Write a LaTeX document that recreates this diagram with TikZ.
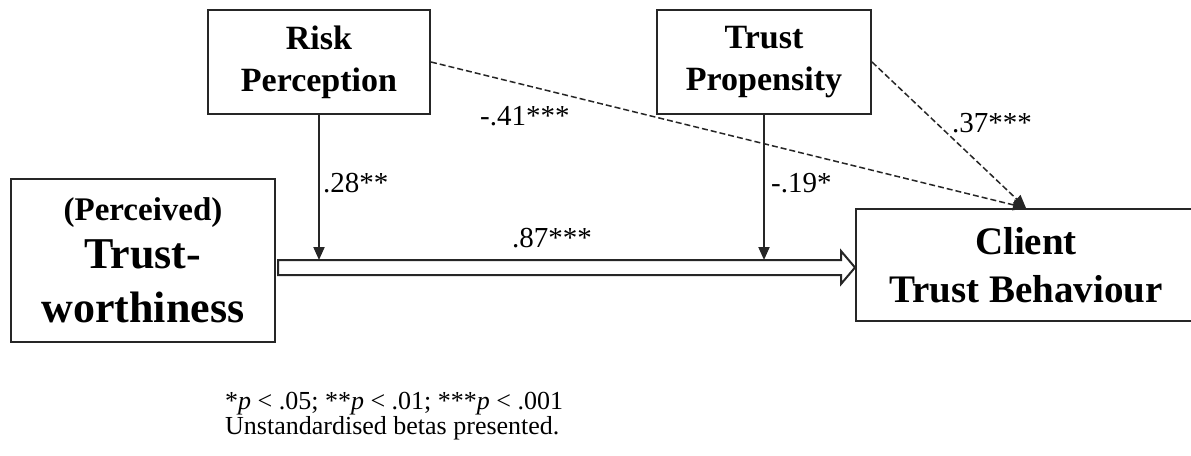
\documentclass[tikz,border=0pt]{standalone}
\usepackage{fontspec}
\setmainfont{Liberation Serif}
\usetikzlibrary{arrows.meta,calc}

\begin{document}
\begin{tikzpicture}[x=1pt,y=-1pt,box/.style={draw=black!85,line width=2pt,align=center,inner sep=0pt},
 coef/.style={anchor=west,inner sep=0pt,font=\fontsize{29}{34}\selectfont},
 >={Triangle[length=13pt,width=11pt]},
 moderator/.style={draw=black!85,line width=2pt,->},
 direct/.style={draw=black!85,line width=1.5pt,dash pattern=on 6pt off 3pt,->},
 hollow/.style={draw=black!85,line width=2pt,fill=white,line join=miter}]
\useasboundingbox (0,0) rectangle (1191,455);
\node[box,minimum width=222pt,minimum height=104pt,font={\bfseries\fontsize{34}{42}\selectfont}] (risk) at (319,62) {Risk\\Perception};
\node[box,minimum width=214pt,minimum height=104pt,font={\bfseries\fontsize{34}{42}\selectfont}] (prop) at (764,62) {Trust\\Propensity};
\node[box,minimum width=264pt,minimum height=163pt,font={\bfseries\fontsize{44}{54}\selectfont}] (trustw) at (143,260.5) {{\fontsize{33}{40}\selectfont (Perceived)}\\[-6pt]Trust-\\worthiness};
\node[box,minimum width=340pt,minimum height=112pt,font={\bfseries\fontsize{39}{48}\selectfont}] (client) at (1026,265) {Client\\Trust Behaviour};
\coordinate (axis) at (0,267.5);
\coordinate (shafttop) at (0,260);
\draw[hollow] let \p1=(trustw.east),\p2=(client.west),\p3=(axis) in
 (\x1+2pt,\y3+7.5pt) -- (\x2-14pt,\y3+7.5pt) -- (\x2-14pt,\y3+16.5pt) -- (\x2,\y3)
 -- (\x2-14pt,\y3-16.5pt) -- (\x2-14pt,\y3-7.5pt) -- (\x1+2pt,\y3-7.5pt) -- cycle;
\draw[moderator] (risk.south) -- (risk.south |- shafttop);
\draw[moderator] (prop.south) -- (prop.south |- shafttop);
\draw[direct] (risk.east) -- (client.north);
\draw[direct] (prop.east) -- (client.north);
\node[coef] (b1) at (323,183) {.28**};
\node[coef] (b2) at (480,116) {-.41***};
\node[coef] (b3) at (512,238) {.87***};
\node[coef] (b4) at (771,183) {-.19*};
\node[coef] (b5) at (952,123) {.37***};
\node[anchor=west,align=left,inner sep=0pt,font=\fontsize{26}{22}\selectfont] (note) at (225,416)
 {*\textit{p} < .05; **\textit{p} < .01; ***\textit{p} < .001\\Unstandardised betas presented.};
\end{tikzpicture}
\end{document}
